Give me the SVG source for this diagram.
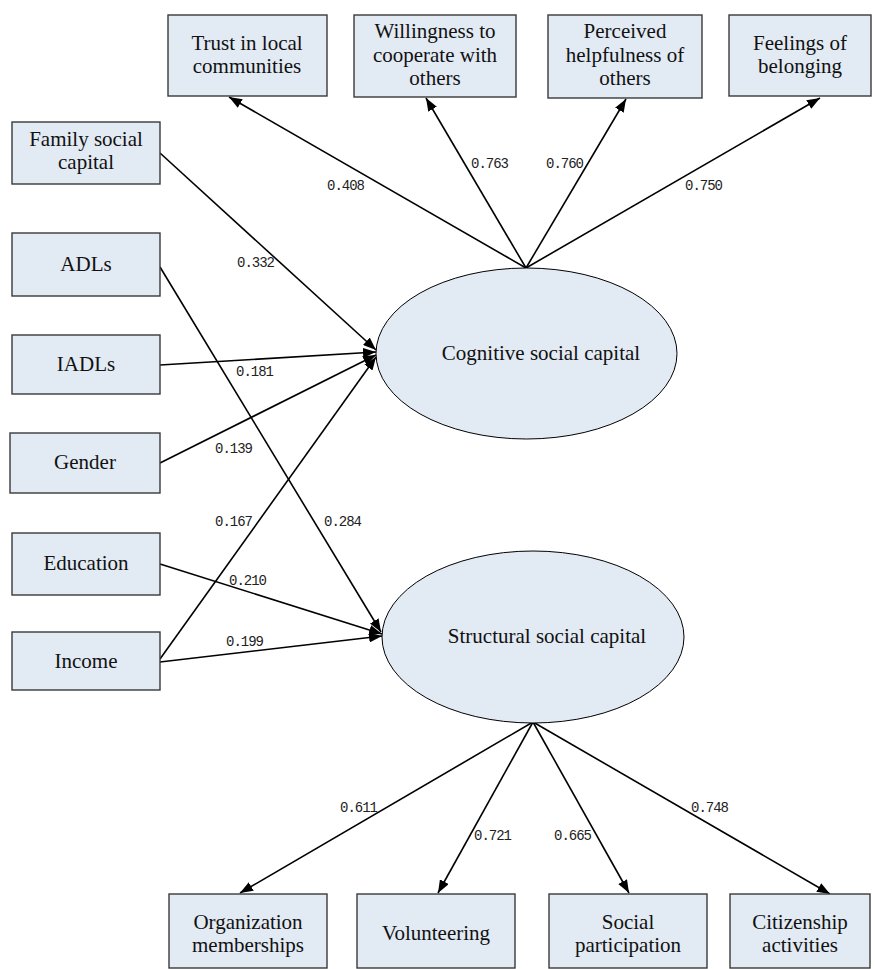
<svg xmlns="http://www.w3.org/2000/svg" width="875" height="969" viewBox="0 0 875 969">
<style>
.box{fill:#e2eaf4;stroke:#3a3a3a;stroke-width:1.4}
.ell{fill:#e2eaf4;stroke:#000;stroke-width:1}
.t{font-family:"Liberation Serif","Times New Roman",serif;font-size:21px;fill:#111;text-anchor:middle}
.n{font-family:"Liberation Mono","Courier New",monospace;font-size:14px;fill:#222;text-anchor:middle}
.c{stroke:#000;stroke-width:1.6;fill:none;marker-end:url(#ah)}
</style>
<defs>
<marker id="ah" markerUnits="userSpaceOnUse" markerWidth="14" markerHeight="10" refX="13" refY="5" orient="auto">
<path d="M0,0 L13,5 L0,10 z" fill="#000"/>
</marker>
</defs>
<rect width="875" height="969" fill="#fff"/>

<g id="connectors">
<line class="c" x1="526" y1="268" x2="229" y2="97"/>
<line class="c" x1="526" y1="268" x2="426" y2="98"/>
<line class="c" x1="526" y1="268" x2="626" y2="99"/>
<line class="c" x1="526" y1="268" x2="820" y2="98"/>
<line class="c" x1="160" y1="153" x2="376" y2="350"/>
<line class="c" x1="160" y1="365" x2="376" y2="352"/>
<line class="c" x1="160" y1="463" x2="376" y2="355"/>
<line class="c" x1="160" y1="659" x2="376" y2="357"/>
<line class="c" x1="160" y1="267" x2="381" y2="632"/>
<line class="c" x1="160" y1="564" x2="382" y2="634"/>
<line class="c" x1="160" y1="662" x2="382" y2="636"/>
<line class="c" x1="533" y1="722" x2="240" y2="893"/>
<line class="c" x1="533" y1="722" x2="438" y2="893"/>
<line class="c" x1="533" y1="722" x2="629" y2="893"/>
<line class="c" x1="533" y1="722" x2="830" y2="894"/>
<text class="n" x="346" y="190" textLength="38">0.408</text>
<text class="n" x="490" y="168" textLength="38">0.763</text>
<text class="n" x="565" y="168" textLength="38">0.760</text>
<text class="n" x="704" y="190" textLength="38">0.750</text>
<text class="n" x="256" y="267" textLength="38">0.332</text>
<text class="n" x="255" y="376" textLength="38">0.181</text>
<text class="n" x="234" y="453" textLength="38">0.139</text>
<text class="n" x="234" y="526" textLength="38">0.167</text>
<text class="n" x="343" y="526" textLength="38">0.284</text>
<text class="n" x="248" y="585" textLength="38">0.210</text>
<text class="n" x="245" y="646" textLength="38">0.199</text>
<text class="n" x="359" y="812" textLength="38">0.611</text>
<text class="n" x="493" y="840" textLength="38">0.721</text>
<text class="n" x="573" y="840" textLength="38">0.665</text>
<text class="n" x="710" y="812" textLength="38">0.748</text>
</g>

<g id="trust"><rect class="box" x="168" y="15" width="159" height="81"/><text class="t" x="247" y="50">Trust in local</text><text class="t" x="247" y="73">communities</text></g>
<g id="willingness"><rect class="box" x="354" y="15" width="162" height="82"/><text class="t" x="435" y="38">Willingness to</text><text class="t" x="435" y="62">cooperate with</text><text class="t" x="435" y="85">others</text></g>
<g id="perceived"><rect class="box" x="548" y="15" width="154" height="83"/><text class="t" x="625" y="38">Perceived</text><text class="t" x="625" y="62">helpfulness of</text><text class="t" x="625" y="85">others</text></g>
<g id="feelings"><rect class="box" x="729" y="15" width="142" height="81"/><text class="t" x="800" y="50">Feelings of</text><text class="t" x="800" y="73">belonging</text></g>

<g id="family"><rect class="box" x="12" y="122" width="148" height="62"/><text class="t" x="86" y="146">Family social</text><text class="t" x="86" y="169">capital</text></g>
<g id="adls"><rect class="box" x="12" y="233" width="148" height="63"/><text class="t" x="86" y="271">ADLs</text></g>
<g id="iadls"><rect class="box" x="12" y="335" width="148" height="59"/><text class="t" x="86" y="371">IADLs</text></g>
<g id="gender"><rect class="box" x="10" y="433" width="150" height="60"/><text class="t" x="85" y="469">Gender</text></g>
<g id="education"><rect class="box" x="12" y="533" width="148" height="62"/><text class="t" x="86" y="570">Education</text></g>
<g id="income"><rect class="box" x="12" y="632" width="148" height="58"/><text class="t" x="86" y="668">Income</text></g>

<g id="cognitive"><ellipse class="ell" cx="526.5" cy="353.5" rx="150.5" ry="85.5"/><text class="t" x="541" y="360">Cognitive social capital</text></g>
<g id="structural"><ellipse class="ell" cx="533" cy="637" rx="151" ry="86"/><text class="t" x="547" y="643">Structural social capital</text></g>

<g id="organization"><rect class="box" x="169" y="894" width="158" height="74"/><text class="t" x="248" y="929">Organization</text><text class="t" x="248" y="952">memberships</text></g>
<g id="volunteering"><rect class="box" x="357" y="894" width="158" height="74"/><text class="t" x="436" y="940">Volunteering</text></g>
<g id="social"><rect class="box" x="549" y="894" width="158" height="74"/><text class="t" x="628" y="929">Social</text><text class="t" x="628" y="952">participation</text></g>
<g id="citizenship"><rect class="box" x="730" y="894" width="140" height="74"/><text class="t" x="800" y="929">Citizenship</text><text class="t" x="800" y="952">activities</text></g>
</svg>
